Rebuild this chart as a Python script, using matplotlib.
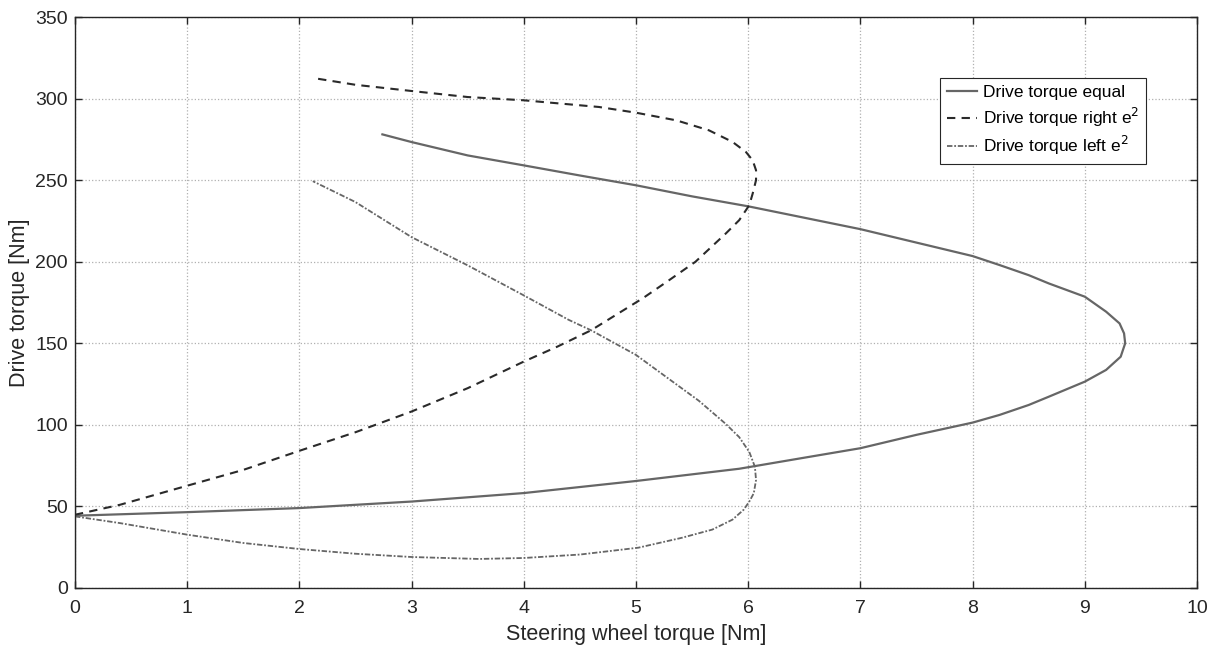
import numpy as np
import matplotlib.pyplot as plt

plt.rcParams['font.family'] = ['Liberation Sans', 'DejaVu Sans']

# steering wheel torque [Nm] vs drive torque [Nm]
equal_x = [0, 0, 0, 1, 2, 3, 4, 5, 5.92, 6.51, 7.0, 7.5, 8.0, 8.24, 8.5, 8.68, 9.0, 9.19,
           9.32, 9.36, 9.35, 9.31, 9.19, 9.0, 8.68, 8.5, 8.24, 8.0, 7.0, 6.0, 5.5, 5.0,
           4.5, 4.0, 3.5, 3.0, 2.74]
equal_y = [0, 50, 44.3, 46.5, 49.0, 53.0, 58.2, 65.6, 73.1, 80.0, 85.7, 93.9, 101.4, 106.1,
           112.2, 117.3, 126.5, 133.7, 141.8, 150.0, 156.1, 162.2, 169.4, 178.6, 186.7, 191.8,
           198.0, 203.5, 220.0, 234.0, 240.1, 246.9, 252.9, 259.1, 265.2, 273.4, 278.1]

right_x = [0, 0.4, 1.0, 1.5, 2.0, 2.5, 3, 3.5, 4, 4.3, 4.6, 5.06, 5.27, 5.53, 5.8, 5.92, 6.01,
           6.04, 6.07, 6.07, 6.04, 5.98, 5.86, 5.65, 5.36, 5.0, 4.67, 4.0, 3.5, 3.0, 2.5, 2.12]
right_y = [44.9, 51.0, 62.7, 72.4, 84.1, 95.5, 108.2, 122.5, 138.8, 148.0, 158.0, 177.6, 187.5,
           200.0, 217.3, 225.5, 234.7, 241.8, 250.0, 256.1, 262.2, 267.3, 273.5, 280.6, 286.7,
           291.4, 294.9, 299.0, 301.0, 304.7, 308.5, 312.7]

left_x = [0, 0.4, 1, 1.5, 2, 2.5, 3, 3.6, 4, 4.5, 5.02, 5.41, 5.68, 5.86, 5.96, 6.01, 6.05,
          6.07, 6.06, 6.01, 5.92, 5.8, 5.56, 5.0, 4.6, 4.4, 4.0, 3.5, 3.0, 2.5, 2.12]
left_y = [43.9, 39.8, 32.7, 27.6, 23.9, 21.0, 19.0, 17.8, 18.4, 20.5, 24.7, 30.8, 35.8, 41.9,
          48.0, 53.0, 58.1, 66.2, 74.3, 83.4, 92.5, 100.6, 114.8, 142.9, 158.0, 164.4, 179.4,
          197.8, 215.1, 236.6, 249.4]

labels = ['Drive torque equal', 'Drive torque right e$^2$', 'Drive torque left e$^2$']

fig = plt.figure(figsize=(12.13, 6.48), dpi=100)
ax = fig.add_axes([0.0618, 0.0926, 0.925, 0.881])

ax.plot(equal_x, equal_y, color='#666666', lw=1.6, ls='-', label=labels[0])
ax.plot(right_x, right_y, color='#2a2a2a', lw=1.5, ls=(0, (4, 3)), label=labels[1])
ax.plot(left_x, left_y, color='#666666', lw=1.3, ls=(0, (3, 1, 1, 1)), label=labels[2])

ax.set_xlim(0, 10)
ax.set_ylim(0, 350)
ax.set_xticks(np.arange(0, 11, 1))
ax.set_yticks(np.arange(0, 351, 50))
ax.grid(True, color='#b0b0b0', ls=':', lw=0.9)
ax.tick_params(direction='in', length=5, top=True, right=True, labelsize=14,
               colors='#262626', width=1, pad=5)
ax.tick_params(axis='x', pad=9)
for sp in ax.spines.values():
    sp.set_color('#262626')
    sp.set_linewidth(1)

ax.set_xlabel('Steering wheel torque [Nm]', fontsize=15.5, color='#262626', labelpad=5)
ax.set_ylabel('Drive torque [Nm]', fontsize=15.5, color='#262626', labelpad=4)

leg = ax.legend(loc='upper right', bbox_to_anchor=(0.9545, 0.893), borderaxespad=0,
                fontsize=12.5, fancybox=False, framealpha=1, edgecolor='#262626',
                handlelength=1.75, handletextpad=0.3, borderpad=0.4, labelspacing=0.3)
leg.get_frame().set_linewidth(0.8)

fig.savefig('out.png', dpi=100)
